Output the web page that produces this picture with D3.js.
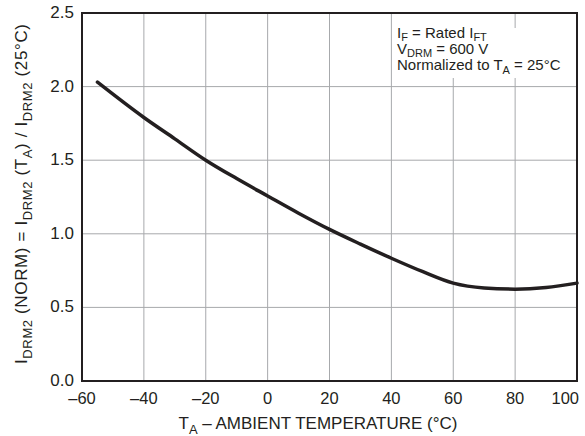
<!DOCTYPE html>
<html>
<head>
<meta charset="utf-8">
<script src="https://cdn.jsdelivr.net/npm/d3@7"></script>
<style>
  body { margin: 0; background: #fff; }
  text { font-family: "Liberation Sans", Arial, sans-serif; fill: #231f20; }
</style>
</head>
<body>
<svg id="chart" width="585" height="436"></svg>
<script>
// temperature (degC) vs normalized off-state leakage
var temps = [-55, -40, -30, -20, -10, 0, 10, 20, 30, 40, 50, 60, 70, 80, 90, 100];
var inorm = [2.03, 1.79, 1.645, 1.50, 1.375, 1.257, 1.14, 1.03, 0.93, 0.834, 0.744, 0.665, 0.632, 0.624, 0.635, 0.665];
var xTicks = [-60, -40, -20, 0, 20, 40, 60, 80, 100];
var yTicks = [0, 0.5, 1.0, 1.5, 2.0, 2.5];

(function() {
  var svg = d3.select("#chart");
  var pl = 82, pr = 577, pt = 13, pb = 381;

  var x = d3.scaleLinear().domain([-60, 100]).range([pl, pr]);
  var y = d3.scaleLinear().domain([0, 2.5]).range([pb, pt]);

  // grid
  var grid = svg.append("g").attr("stroke", "#a7a9ac").attr("stroke-width", 1);
  grid.selectAll("line.v")
      .data(xTicks.slice(1, -1))
      .enter().append("line")
      .attr("x1", function(d) { return x(d); })
      .attr("x2", function(d) { return x(d); })
      .attr("y1", pt).attr("y2", pb);
  grid.selectAll("line.h")
      .data(yTicks.slice(1, -1))
      .enter().append("line")
      .attr("x1", pl).attr("x2", pr)
      .attr("y1", function(d) { return y(d); })
      .attr("y2", function(d) { return y(d); });

  // white box behind the conditions text
  svg.append("rect").attr("x", 396).attr("y", 14).attr("width", 104).attr("height", 20).attr("fill", "#fff");
  svg.append("rect").attr("x", 396).attr("y", 28).attr("width", 173).attr("height", 50).attr("fill", "#fff");

  // frame
  svg.append("rect")
      .attr("x", pl).attr("y", pt)
      .attr("width", pr - pl).attr("height", pb - pt)
      .attr("fill", "none").attr("stroke", "#231f20").attr("stroke-width", 2);

  // curve
  var line = d3.line()
      .x(function(d, i) { return x(temps[i]); })
      .y(function(d) { return y(d); })
      .curve(d3.curveMonotoneX);

  svg.append("path")
      .datum(inorm)
      .attr("d", line)
      .attr("fill", "none")
      .attr("stroke", "#231f20")
      .attr("stroke-width", 3.5)
      .attr("stroke-linecap", "round");

  // tick labels
  svg.append("g").selectAll("text")
      .data(yTicks)
      .enter().append("text")
      .attr("x", 74)
      .attr("y", function(d) { return y(d) + 5; })
      .attr("text-anchor", "end")
      .attr("font-size", 17)
      .text(function(d) { return d.toFixed(1); });

  svg.append("g").selectAll("text")
      .data(xTicks)
      .enter().append("text")
      .attr("x", function(d, i) { return i === xTicks.length - 1 ? 579 : x(d); })
      .attr("y", 404)
      .attr("text-anchor", function(d, i) { return i === xTicks.length - 1 ? "end" : "middle"; })
      .attr("font-size", 16.5)
      .text(function(d) { return d < 0 ? "\u2013" + (-d) : d; });

  // text with subscripts: parts = [[text, isSub], ...]
  function richText(sel, parts, size, subSize, shift) {
    var prevSub = false;
    parts.forEach(function(p) {
      var t = sel.append("tspan").text(p[0]);
      if (p[1] && !prevSub) t.attr("dy", shift).attr("font-size", subSize);
      else if (!p[1] && prevSub) t.attr("dy", -shift).attr("font-size", size);
      else if (p[1]) t.attr("font-size", subSize);
      prevSub = p[1];
    });
  }

  // x-axis title
  var xt = svg.append("text")
      .attr("x", 318).attr("y", 429)
      .attr("text-anchor", "middle")
      .attr("font-size", 17);
  richText(xt, [["T", false], ["A", true], [" \u2013 AMBIENT TEMPERATURE (\u00b0C)", false]], 17, 13, 5);

  // y-axis title
  var yt = svg.append("text")
      .attr("transform", "translate(27,194) rotate(-90)")
      .attr("text-anchor", "middle")
      .attr("font-size", 17)
      .attr("textLength", 340)
      .attr("lengthAdjust", "spacing");
  richText(yt, [["I", false], ["DRM2", true], [" (NORM) =  I", false], ["DRM2", true],
                [" (T", false], ["A", true], [") / I", false], ["DRM2", true], [" (25\u00b0C)", false]], 17, 13, 5);

  // conditions
  var notes = [
    [["I", false], ["F", true], [" = Rated I", false], ["FT", true]],
    [["V", false], ["DRM", true], [" = 600 V", false]],
    [["Normalized to T", false], ["A", true], [" = 25\u00b0C", false]]
  ];
  notes.forEach(function(n, i) {
    var t = svg.append("text")
        .attr("x", 397).attr("y", 37.5 + i * 16.3)
        .attr("font-size", 15);
    richText(t, n, 15, 11, 3.5);
  });
})();
</script>
</body>
</html>
